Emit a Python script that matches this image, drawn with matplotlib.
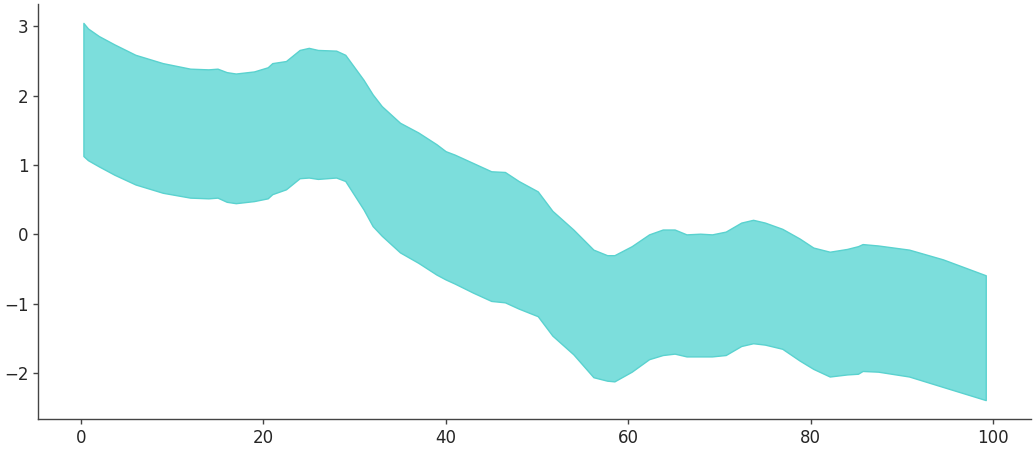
import matplotlib
matplotlib.use("Agg")
import matplotlib.pyplot as plt

# x positions of the band and its upper / lower edges
x = [0.3, 0.8, 2.0, 3.7, 6.0, 9.0, 12.0, 14.0, 15.0, 16.0, 17.0, 19.0, 20.5, 21.0,
     22.5, 24.0, 25.0, 26.0, 28.0, 29.0, 31.0, 32.0, 33.0, 35.0, 37.0, 39.0, 40.0,
     41.0, 43.0, 45.0, 46.5, 48.0, 50.1, 51.7, 54.0, 56.2, 57.7, 58.5, 60.4, 62.3,
     63.8, 65.1, 66.4, 67.9, 69.2, 70.7, 72.4, 73.7, 75.0, 76.9, 78.8, 80.3, 82.1,
     84.0, 85.2, 85.7, 87.4, 90.8, 94.5, 99.2]
upper = [3.05, 2.97, 2.86, 2.74, 2.59, 2.47, 2.39, 2.38, 2.39, 2.34, 2.32, 2.35, 2.41,
         2.47, 2.50, 2.66, 2.69, 2.66, 2.65, 2.59, 2.23, 2.02, 1.85, 1.61, 1.47, 1.30,
         1.20, 1.15, 1.03, 0.91, 0.90, 0.77, 0.62, 0.34, 0.07, -0.22, -0.30, -0.30,
         -0.17, 0.00, 0.07, 0.07, 0.00, 0.01, 0.00, 0.04, 0.17, 0.21, 0.17, 0.08,
         -0.06, -0.19, -0.25, -0.21, -0.17, -0.14, -0.16, -0.22, -0.36, -0.59]
lower = [1.13, 1.07, 0.98, 0.86, 0.72, 0.60, 0.53, 0.52, 0.53, 0.47, 0.45, 0.48, 0.52,
         0.58, 0.65, 0.81, 0.82, 0.80, 0.82, 0.77, 0.36, 0.12, -0.02, -0.26, -0.41,
         -0.58, -0.65, -0.71, -0.84, -0.96, -0.98, -1.07, -1.18, -1.46, -1.73, -2.06,
         -2.11, -2.12, -1.98, -1.80, -1.74, -1.72, -1.76, -1.76, -1.76, -1.74, -1.61,
         -1.57, -1.59, -1.65, -1.82, -1.94, -2.05, -2.02, -2.01, -1.97, -1.98, -2.05,
         -2.20, -2.39]

fig = plt.figure(figsize=(10.35, 4.5), dpi=100)
ax = fig.add_axes([0.037, 0.069, 0.959, 0.922])

ax.fill_between(x, lower, upper, facecolor="#7cdedc", edgecolor="#5ad2cf", linewidth=1)

ax.spines["top"].set_visible(False)
ax.spines["right"].set_visible(False)
for s in ["left", "bottom"]:
    ax.spines[s].set_color("#444444")
    ax.spines[s].set_linewidth(1)
ax.tick_params(labelsize=12, colors="#262626", length=3.5, width=1, direction="out")
ax.tick_params(color="#444444")

fig.savefig("out.png", dpi=100)
